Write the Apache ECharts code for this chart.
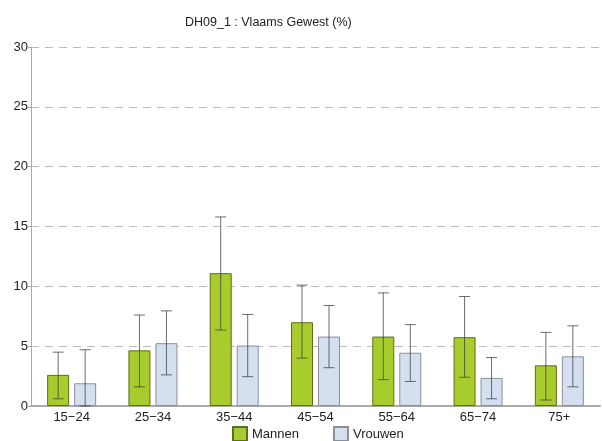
<!DOCTYPE html>
<html>
<head>
<meta charset="utf-8">
<script src="https://cdn.jsdelivr.net/npm/echarts@6/dist/echarts.min.js"></script>
<style>
  html, body { margin: 0; padding: 0; background: #fff; }
  #chart { width: 602px; height: 441px; }
</style>
</head>
<body>
<div id="chart"></div>
<script>
// Age groups
var categories = ['15\u221224', '25\u221234', '35\u221244', '45\u221254', '55\u221264', '65\u221274', '75+'];

// Percentages per sex
var mannen = [2.6, 4.65, 11.1, 7.0, 5.8, 5.75, 3.4];
var vrouwen = [1.9, 5.25, 5.05, 5.8, 4.45, 2.35, 4.15];

// Confidence intervals (lower / upper)
var mannenLow = [0.6, 1.6, 6.35, 4.0, 2.2, 2.4, 0.5];
var mannenHigh = [4.5, 7.6, 15.8, 10.1, 9.45, 9.15, 6.15];
var vrouwenLow = [0.0, 2.6, 2.45, 3.2, 2.05, 0.6, 1.6];
var vrouwenHigh = [4.7, 7.95, 7.65, 8.4, 6.8, 4.05, 6.7];

var yTicks = [0, 5, 10, 15, 20, 25, 30];

var BAR_W = 22;
var BAR_GAP = 5;

function errorSeries(low, high, side) {
  var shift = side * (BAR_W + BAR_GAP) / 2;
  return {
    type: 'custom',
    z: 5,
    silent: true,
    data: low.map(function (lo, i) { return [i, lo, high[i]]; }),
    renderItem: function (params, api) {
      var idx = api.value(0);
      var pLo = api.coord([idx, api.value(1)]);
      var pHi = api.coord([idx, api.value(2)]);
      var x = pLo[0] + shift;
      var cap = 5.5;
      var style = { stroke: 'rgba(60,60,60,0.75)', lineWidth: 1 };
      return {
        type: 'group',
        children: [
          { type: 'line', shape: { x1: x, y1: pLo[1], x2: x, y2: pHi[1] }, style: style },
          { type: 'line', shape: { x1: x - cap, y1: pHi[1], x2: x + cap, y2: pHi[1] }, style: style },
          { type: 'line', shape: { x1: x - cap, y1: pLo[1], x2: x + cap, y2: pLo[1] }, style: style }
        ]
      };
    }
  };
}

var chart = echarts.init(document.getElementById('chart'), null, { renderer: 'canvas' });

chart.setOption({
  animation: false,
  textStyle: { fontFamily: 'Liberation Sans, Arial, sans-serif' },
  title: {
    text: 'DH09_1 : Vlaams Gewest (%)',
    left: 180,
    top: 11,
    textStyle: { fontSize: 12.5, fontWeight: 'normal', color: '#222' }
  },
  legend: {
    data: ['Mannen', 'Vrouwen'],
    left: 232,
    top: 426,
    padding: 0,
    itemWidth: 14,
    itemHeight: 14,
    itemGap: 34,
    icon: 'rect',
    textStyle: { fontSize: 13, color: '#222' }
  },
  grid: { left: 31, right: 2, top: 47, bottom: 35 },
  xAxis: {
    type: 'category',
    data: categories,
    axisLine: { lineStyle: { color: '#aaa', width: 2 } },
    axisTick: { show: false },
    axisLabel: { fontSize: 13, color: '#222', margin: 5 }
  },
  yAxis: {
    type: 'value',
    min: yTicks[0],
    max: yTicks[yTicks.length - 1],
    interval: 5,
    axisLine: { show: true, lineStyle: { color: '#aaa', width: 1 } },
    axisTick: { show: true, length: 3, lineStyle: { color: '#aaa' } },
    axisLabel: { fontSize: 13, color: '#222', margin: 3 },
    splitLine: { lineStyle: { color: '#bbb', type: [8, 6], width: 1 } }
  },
  series: [
    {
      name: 'Mannen',
      type: 'bar',
      data: mannen,
      barWidth: BAR_W,
      barGap: (BAR_GAP / BAR_W * 100) + '%',
      itemStyle: { color: '#a8cc2c', borderColor: '#5f6e1c', borderWidth: 1 }
    },
    {
      name: 'Vrouwen',
      type: 'bar',
      data: vrouwen,
      barWidth: BAR_W,
      itemStyle: { color: '#d4e0f0', borderColor: '#8a9098', borderWidth: 1 }
    },
    errorSeries(mannenLow, mannenHigh, -1),
    errorSeries(vrouwenLow, vrouwenHigh, 1)
  ]
});
</script>
</body>
</html>
